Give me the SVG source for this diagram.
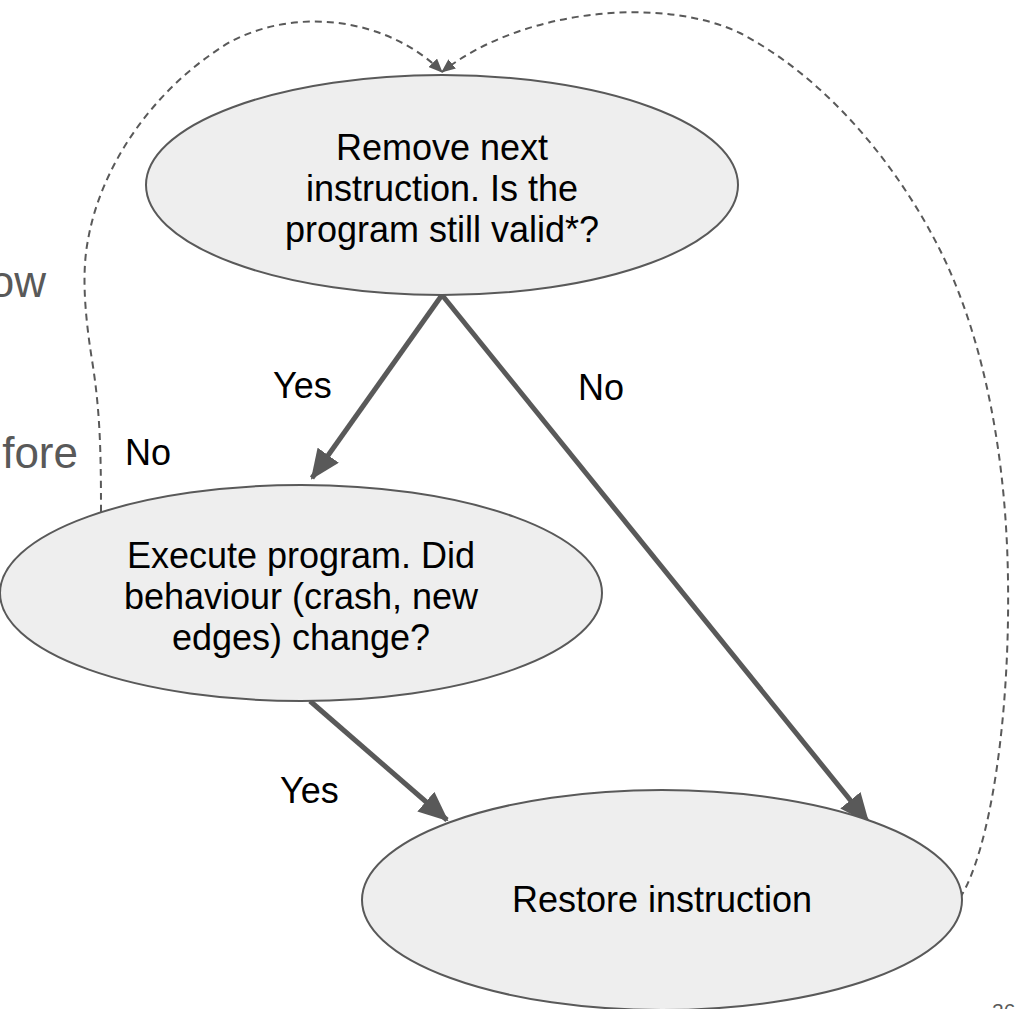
<svg xmlns="http://www.w3.org/2000/svg" width="1017" height="1009" viewBox="0 0 1017 1009">
  <style>
    .node { fill: #eeeeee; stroke: #595959; stroke-width: 2; }
    .label { font-family: "Liberation Sans", Arial, sans-serif; font-size: 36px; fill: #000000; }
    .center { text-anchor: middle; }
    .slide { font-family: "Liberation Sans", Arial, sans-serif; fill: #595959; }
    .flow { fill: none; stroke: #595959; stroke-width: 5; }
    .loop { fill: none; stroke: #595959; stroke-width: 2; stroke-dasharray: 7 5; }
  </style>
  <defs>
    <marker id="bigHead" markerUnits="userSpaceOnUse" viewBox="0 0 30 26" refX="28" refY="13" markerWidth="30" markerHeight="26" orient="auto">
      <path d="M0,0 L30,13 L0,26 z" fill="#595959"/>
    </marker>
    <marker id="smallHead" markerUnits="userSpaceOnUse" viewBox="0 0 14 12" refX="13" refY="6" markerWidth="14" markerHeight="12" orient="auto">
      <path d="M0,0 L14,6 L0,12 z" fill="#595959"/>
    </marker>
  </defs>

  <rect width="1017" height="1009" fill="#ffffff"/>

  <!-- slide body text running behind the flow chart -->
  <g id="slide-text">
    <text class="slide" x="46" y="297" font-size="44" text-anchor="end">ow</text>
    <text class="slide" x="78" y="468" font-size="44" text-anchor="end">fore</text>
    <text class="slide" x="992" y="1018" font-size="21">26</text>
  </g>

  <!-- connectors -->
  <g id="connectors">
    <line class="flow" x1="442" y1="295" x2="312" y2="478" marker-end="url(#bigHead)"/>
    <line class="flow" x1="442" y1="295" x2="868" y2="822" marker-end="url(#bigHead)"/>
    <line class="flow" x1="310" y1="701" x2="447" y2="820" marker-end="url(#bigHead)"/>
    <path class="loop" d="M101,512 C101,450 100,410 92,360 C84,310 82,270 88,240 C100,170 150,90 230,42 C300,5 390,20 442,72" marker-end="url(#smallHead)"/>
    <path class="loop" d="M960,898 C990,850 1010,720 1008,580 C1006,430 975,320 940,250 C900,170 830,80 740,33 C660,-5 520,10 442,72" marker-end="url(#smallHead)"/>
  </g>

  <g id="edge-labels">
    <text class="label" x="273" y="398">Yes</text>
    <text class="label" x="578" y="400">No</text>
    <text class="label" x="125" y="465">No</text>
    <text class="label" x="280" y="803">Yes</text>
  </g>

  <g id="node-remove">
    <ellipse class="node" cx="442" cy="185" rx="296" ry="110"/>
    <text class="label center" x="442" y="160">Remove next</text>
    <text class="label center" x="442" y="201">instruction. Is the</text>
    <text class="label center" x="442" y="242">program still valid*?</text>
  </g>

  <g id="node-execute">
    <ellipse class="node" cx="301" cy="593" rx="301" ry="108"/>
    <text class="label center" x="301" y="568">Execute program. Did</text>
    <text class="label center" x="301" y="609">behaviour (crash, new</text>
    <text class="label center" x="301" y="650">edges) change?</text>
  </g>

  <g id="node-restore">
    <ellipse class="node" cx="662" cy="900" rx="300" ry="110"/>
    <text class="label center" x="662" y="912">Restore instruction</text>
  </g>
</svg>
